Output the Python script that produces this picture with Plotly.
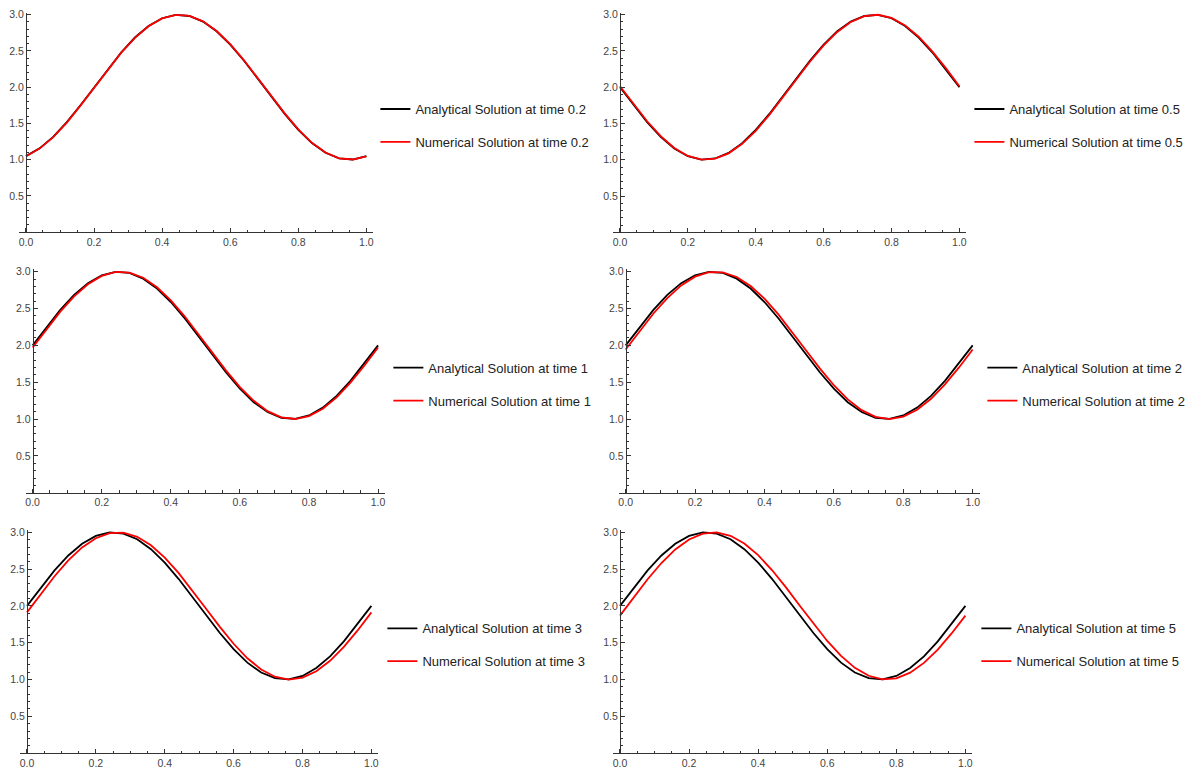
import plotly.graph_objects as go

# ---------------- data ----------------
x_grid = [0.00, 0.04, 0.08, 0.12, 0.16, 0.20, 0.24, 0.28, 0.32, 0.36, 0.40, 0.44, 0.48,
          0.52, 0.56, 0.60, 0.64, 0.68, 0.72, 0.76, 0.80, 0.84, 0.88, 0.92, 0.96, 1.00]

times = ["0.2", "0.5", "1", "2", "3", "5"]

analytical_t02 = [1.049, 1.156, 1.315, 1.518, 1.751, 2.000, 2.249, 2.482, 2.685, 2.844, 2.951, 2.998, 2.982,
                  2.905, 2.771, 2.588, 2.368, 2.125, 1.875, 1.632, 1.412, 1.229, 1.095, 1.018, 1.002, 1.049]
numerical_t02 = [1.047, 1.153, 1.310, 1.512, 1.745, 1.994, 2.243, 2.476, 2.680, 2.841, 2.949, 2.998, 2.983,
                 2.908, 2.775, 2.593, 2.374, 2.131, 1.881, 1.638, 1.417, 1.233, 1.098, 1.019, 1.002, 1.047]

analytical_t05 = [2.000, 1.751, 1.518, 1.315, 1.156, 1.049, 1.002, 1.018, 1.095, 1.229, 1.412, 1.632, 1.875,
                  2.125, 2.368, 2.588, 2.771, 2.905, 2.982, 2.998, 2.951, 2.844, 2.685, 2.482, 2.249, 2.000]
numerical_t05 = [2.014, 1.765, 1.531, 1.326, 1.163, 1.053, 1.003, 1.015, 1.089, 1.220, 1.400, 1.619, 1.861,
                 2.111, 2.355, 2.576, 2.762, 2.899, 2.979, 2.999, 2.955, 2.852, 2.696, 2.495, 2.263, 2.014]

analytical_t1 = [2.000, 2.249, 2.482, 2.685, 2.844, 2.951, 2.998, 2.982, 2.905, 2.771, 2.588, 2.368, 2.125,
                 1.875, 1.632, 1.412, 1.229, 1.095, 1.018, 1.002, 1.049, 1.156, 1.315, 1.518, 1.751, 2.000]
numerical_t1 = [1.972, 2.221, 2.457, 2.664, 2.829, 2.942, 2.996, 2.987, 2.917, 2.788, 2.611, 2.394, 2.153,
                1.903, 1.658, 1.435, 1.248, 1.108, 1.023, 1.001, 1.041, 1.141, 1.295, 1.494, 1.724, 1.972]

analytical_t2 = [2.000, 2.249, 2.482, 2.685, 2.844, 2.951, 2.998, 2.982, 2.905, 2.771, 2.588, 2.368, 2.125,
                 1.875, 1.632, 1.412, 1.229, 1.095, 1.018, 1.002, 1.049, 1.156, 1.315, 1.518, 1.751, 2.000]
numerical_t2 = [1.943, 2.194, 2.432, 2.642, 2.813, 2.932, 2.993, 2.991, 2.928, 2.805, 2.633, 2.420, 2.181,
                1.931, 1.685, 1.459, 1.267, 1.121, 1.030, 1.000, 1.033, 1.127, 1.275, 1.470, 1.697, 1.943]

analytical_t3 = [2.000, 2.249, 2.482, 2.685, 2.844, 2.951, 2.998, 2.982, 2.905, 2.771, 2.588, 2.368, 2.125,
                 1.875, 1.632, 1.412, 1.229, 1.095, 1.018, 1.002, 1.049, 1.156, 1.315, 1.518, 1.751, 2.000]
numerical_t3 = [1.912, 2.163, 2.403, 2.618, 2.794, 2.920, 2.989, 2.995, 2.939, 2.824, 2.657, 2.448, 2.212,
                1.962, 1.715, 1.486, 1.289, 1.136, 1.038, 1.000, 1.025, 1.112, 1.254, 1.443, 1.667, 1.912]

analytical_t5 = [2.000, 2.249, 2.482, 2.685, 2.844, 2.951, 2.998, 2.982, 2.905, 2.771, 2.588, 2.368, 2.125,
                 1.875, 1.632, 1.412, 1.229, 1.095, 1.018, 1.002, 1.049, 1.156, 1.315, 1.518, 1.751, 2.000]
numerical_t5 = [1.868, 2.119, 2.362, 2.583, 2.767, 2.902, 2.981, 2.999, 2.953, 2.848, 2.689, 2.487, 2.255,
                2.006, 1.758, 1.524, 1.320, 1.159, 1.051, 1.002, 1.017, 1.093, 1.226, 1.407, 1.626, 1.868]

analytical_series = [analytical_t02, analytical_t05, analytical_t1, analytical_t2, analytical_t3, analytical_t5]
numerical_series = [numerical_t02, numerical_t05, numerical_t1, numerical_t2, numerical_t3, numerical_t5]

x_tickvals = [0.0, 0.2, 0.4, 0.6, 0.8, 1.0]
x_ticktext = ["0.0", "0.2", "0.4", "0.6", "0.8", "1.0"]
y_tickvals = [0.5, 1.0, 1.5, 2.0, 2.5, 3.0]
y_ticktext = ["0.5", "1.0", "1.5", "2.0", "2.5", "3.0"]

# ---------------- layout geometry (pixels, as seen in the screenshot) ----------------
W, H = 1199, 773
OFF_X, OFF_Y = 8, 10   # page offset of the plot div inside the browser window
# x0: pixel of x=0, x1: pixel of x=1, yb: pixel of y=0, yt: pixel of y=3, lx: legend text start, ly: first legend row
panels = [
    dict(x0=25.0, x1=366.0, yb=231.3, yt=12.7, lx=415, ly=108),
    dict(x0=620.0, x1=960.0, yb=231.5, yt=12.7, lx=1010, ly=108),
    dict(x0=31.7, x1=377.7, yb=493.3, yt=271.0, lx=428, ly=368),
    dict(x0=625.7, x1=973.3, yb=493.3, yt=271.0, lx=1023, ly=368),
    dict(x0=26.0, x1=371.0, yb=755.0, yt=533.0, lx=422, ly=630),
    dict(x0=620.0, x1=966.0, yb=755.0, yt=533.0, lx=1017, ly=630),
]

AXIS_COLOR = "#333333"
TICK_FONT = dict(family="Liberation Sans, Arial, sans-serif", size=10.5, color="#444444")
LEG_FONT = dict(family="Liberation Sans, Arial, sans-serif", size=13, color="#222222")

fig = go.Figure()
layout = dict(
    width=W, height=H,
    margin=dict(l=0, r=0, t=0, b=0),
    paper_bgcolor="white", plot_bgcolor="white",
    showlegend=True,
)

XPAD, YTOP = 0.02, 3.03
for i, p in enumerate(panels):
    n = i + 1
    xref = "x" if n == 1 else f"x{n}"
    yref = "y" if n == 1 else f"y{n}"
    leg = "legend" if n == 1 else f"legend{n}"
    xa = "xaxis" if n == 1 else f"xaxis{n}"
    ya = "yaxis" if n == 1 else f"yaxis{n}"

    x0 = p["x0"] - OFF_X
    x1 = p["x1"] - OFF_X
    yb = p["yb"] - OFF_Y
    yt = p["yt"] - OFF_Y
    span = x1 - x0
    left = x0 - XPAD * span
    right = x1 + XPAD * span
    unit = (yb - yt) / 3.0
    top = yb - YTOP * unit

    layout[xa] = dict(
        domain=[left / W, right / W], range=[-XPAD, 1 + XPAD], anchor=yref,
        showline=True, linecolor=AXIS_COLOR, linewidth=1,
        showgrid=False, zeroline=False,
        ticks="inside", ticklen=4, tickwidth=1, tickcolor=AXIS_COLOR,
        tickvals=x_tickvals, ticktext=x_ticktext, tickfont=TICK_FONT,
        minor=dict(dtick=0.05, tick0=0, ticks="inside", ticklen=2.5, tickwidth=1,
                   tickcolor=AXIS_COLOR, showgrid=False),
        fixedrange=True,
    )
    layout[ya] = dict(
        domain=[1 - yb / H, 1 - top / H], range=[0, YTOP], anchor="free",
        position=x0 / W, side="left",
        showline=True, linecolor=AXIS_COLOR, linewidth=1,
        showgrid=False, zeroline=False,
        ticks="inside", ticklen=4, tickwidth=1, tickcolor=AXIS_COLOR,
        tickvals=y_tickvals, ticktext=y_ticktext, tickfont=TICK_FONT,
        minor=dict(dtick=0.1, tick0=0, ticks="inside", ticklen=2.5, tickwidth=1,
                   tickcolor=AXIS_COLOR, showgrid=False),
        fixedrange=True,
    )
    layout[leg] = dict(
        x=(p["lx"] - OFF_X - 40) / W, y=1 - (p["ly"] - OFF_Y - 15.5) / H,
        xanchor="left", yanchor="top",
        font=LEG_FONT, bgcolor="rgba(0,0,0,0)", borderwidth=0,
        tracegroupgap=13, traceorder="grouped",
    )

    t = times[i]
    fig.add_trace(go.Scatter(
        x=x_grid, y=analytical_series[i], mode="lines",
        line=dict(color="#000000", width=1.8),
        name=f"Analytical Solution at time {t}",
        xaxis=xref, yaxis=yref, legend=leg, legendgroup=f"a{n}",
    ))
    fig.add_trace(go.Scatter(
        x=x_grid, y=numerical_series[i], mode="lines",
        line=dict(color="#FF0000", width=1.8),
        name=f"Numerical Solution at time {t}",
        xaxis=xref, yaxis=yref, legend=leg, legendgroup=f"b{n}",
    ))

fig.update_layout(**layout)
fig.write_html("out.html")
